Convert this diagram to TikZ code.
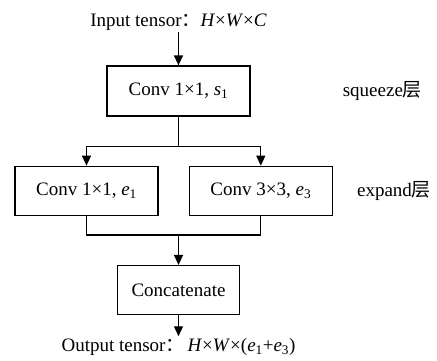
\documentclass[tikz,border=0pt]{standalone}
\usepackage{fontspec}
\setmainfont{Liberation Serif}
\newfontfamily\cjk{Noto Sans CJK SC}
\usetikzlibrary{arrows.meta, positioning, calc}

\begin{document}
\begin{tikzpicture}[
            > = {Triangle[length=10pt, width=9pt]}, % arrow head style
            x = 1pt, y = 1pt, % work in pixels of the page
            node distance = 30pt, % distance between nodes
            line width = 1.3pt, % line style
            font = \fontsize{19}{22}\selectfont
        ]

        \tikzstyle{layer}=[
            draw = black,
            fill = white,
            minimum width = 143pt,
            minimum height = 50pt
        ]
        \tikzstyle{tag}=[
            inner sep = 1.5pt
        ]

        \useasboundingbox (0,0) rectangle (437,-360);

        \node[layer] (squeeze) at (178.5,-91) {Conv 1×1, \textit{s}\textsubscript{1}};
        \node[tag] (input) [above=33pt of squeeze] {Input tensor{\cjk ：}\textit{H}×\textit{W}×\textit{C}};
        \node[layer, minimum height=49pt] (e1) [below=49pt of squeeze, xshift=-92pt] {Conv 1×1, \textit{e}\textsubscript{1}};
        \node[layer, minimum height=49pt] (e3) [right=30pt of e1] {Conv 3×3, \textit{e}\textsubscript{3}};
        \coordinate (join) at ($(squeeze |- e1.south)+(0,-19)$);
        \node[layer, minimum width=122pt, minimum height=49pt] (concat) [below=30pt of join] {Concatenate};
        \node[tag] (output) [below=21pt of concat] {Output tensor{\cjk ：}\,\textit{H}×\textit{W}×(\textit{e}\textsubscript{1}+\textit{e}\textsubscript{3})};

        \node[tag] (sqlabel) [right=90pt of squeeze] {squeeze{\cjk 层}};
        \node[tag] (exlabel) [right=22pt of e3] {expand{\cjk 层}};

        \draw[->] (input) -- (squeeze);
        \draw[->] (squeeze.south) -- ++(0,-30) -| (e1.north);
        \draw[->] (squeeze.south) -- ++(0,-30) -| (e3.north);
        \draw (e1.south) |- (join) -| (e3.south);
        \draw[->] (join) -- (concat);
        \draw[->] (concat) -- (output);

    \end{tikzpicture}
\end{document}
